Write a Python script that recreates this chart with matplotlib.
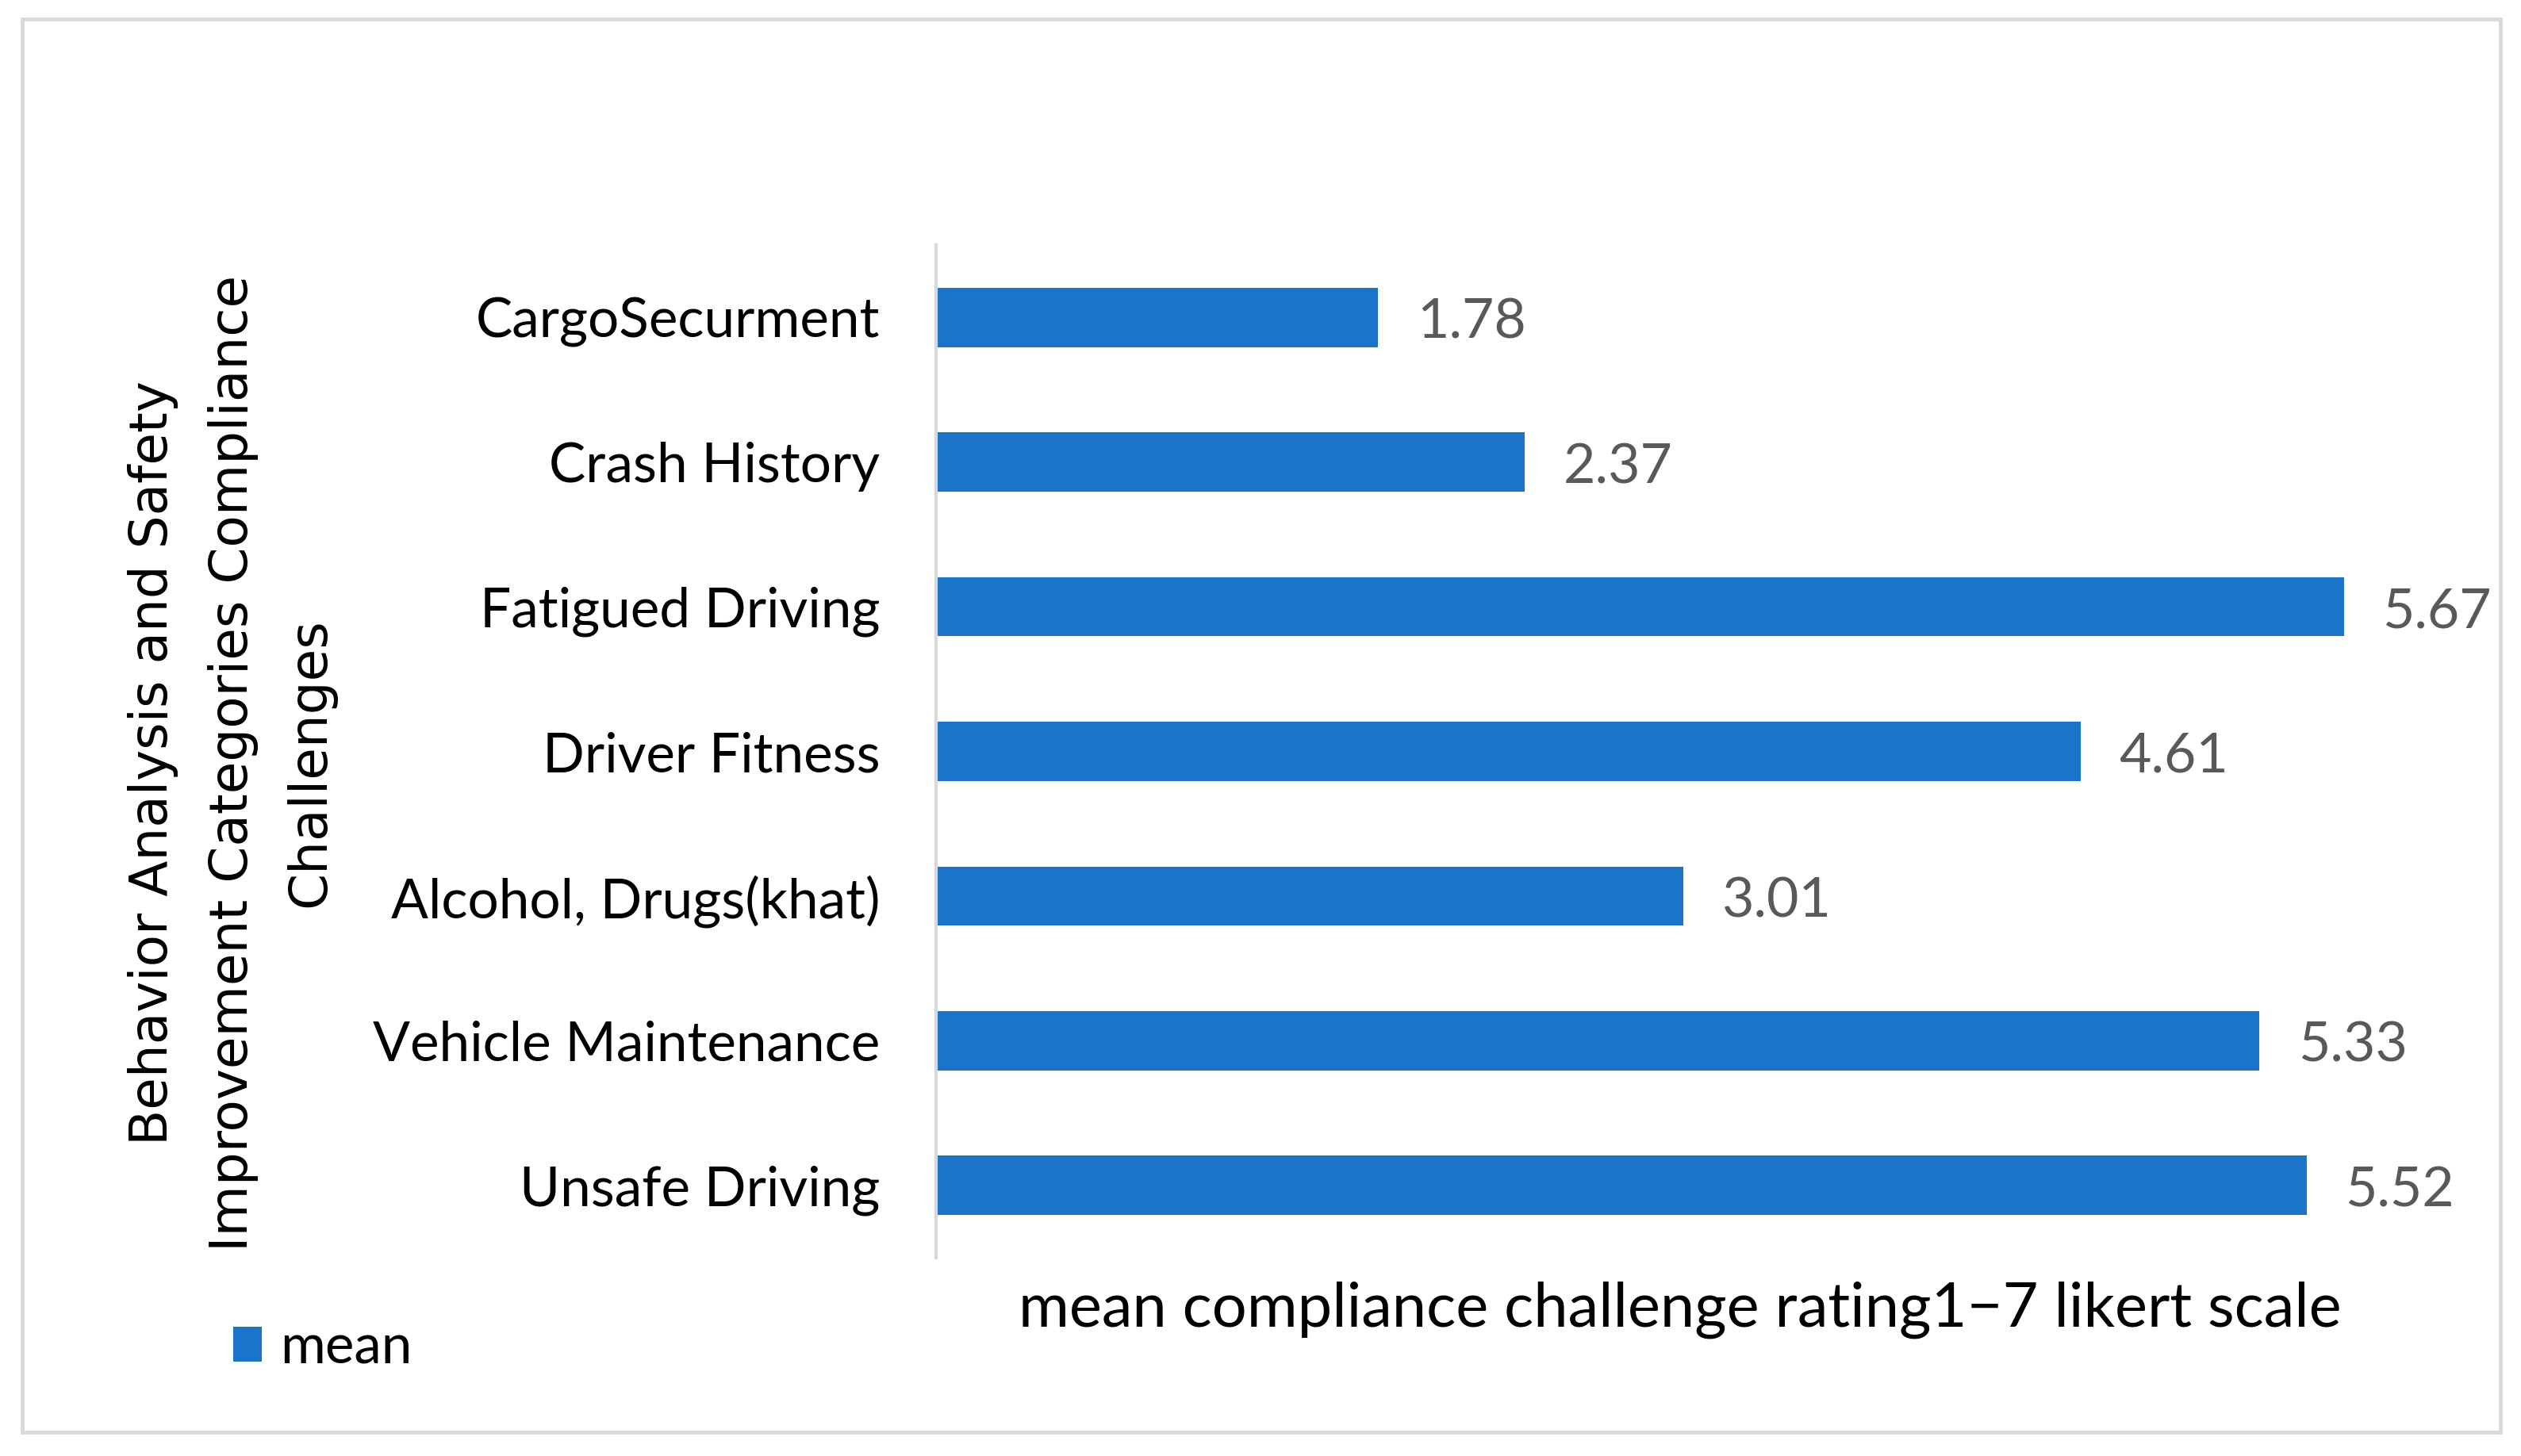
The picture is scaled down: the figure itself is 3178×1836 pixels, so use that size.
import matplotlib
matplotlib.use("Agg")
import matplotlib.pyplot as plt
from matplotlib.patches import Rectangle

categories = ["CargoSecurment", "Crash History", "Fatigued Driving", "Driver Fitness",
              "Alcohol, Drugs(khat)", "Vehicle Maintenance", "Unsafe Driving"]
means = [1.78, 2.37, 5.67, 4.61, 3.01, 5.33, 5.52]
series_name = "mean"
xlabel = "mean compliance challenge rating1\u22127 likert scale"
ylabel_lines = ["Behavior Analysis and Safety", "Improvement Categories Compliance", "Challenges"]

W, H = 3178, 1836
BAR = "#1a75c9"
FONT = "Lato"

fig = plt.figure(figsize=(W / 100, H / 100), dpi=100)
fig.patch.set_facecolor("white")
renderer = fig.canvas.get_renderer()


def fit(t, target_px):
    fs = t.get_fontsize()
    w = t.get_window_extent(renderer=renderer).width
    t.set_fontsize(fs * target_px / w)
    return t.get_fontsize()


# outer border
fig.patches.append(Rectangle((28 / W, 1 - 1806 / H), (3152 - 28) / W, (1806 - 24) / H,
                             transform=fig.transFigure, fill=False,
                             edgecolor="#d9d9d9", linewidth=3.5, zorder=0))

ax = fig.add_axes([1180 / W, 1 - 1586 / H, (3058 - 1180) / W, (1586 - 309) / H])
ypos = list(range(len(categories)))
bars = ax.barh(ypos, means, height=0.41, color=BAR, label=series_name)
ax.set_xlim(0, 6)
ax.set_ylim(len(categories) - 0.5, -0.5)

for s in ["top", "right", "bottom"]:
    ax.spines[s].set_visible(False)
ax.spines["left"].set_color("#d9d9d9")
ax.spines["left"].set_linewidth(3)
ax.set_xticks([])
ax.set_yticks(ypos)
ax.set_yticklabels(categories, fontfamily=FONT, color="black")
ax.tick_params(axis="y", length=0, pad=51)

# fit tick label size
probe = fig.text(0, 0, "Vehicle Maintenance", fontfamily=FONT, fontsize=40)
tick_fs = fit(probe, 640)
probe.remove()
for lab in ax.get_yticklabels():
    lab.set_fontsize(tick_fs)

# value labels
probe = fig.text(0, 0, "5.67", fontfamily=FONT, fontsize=40)
val_fs = fit(probe, 138)
probe.remove()
for yv, v in zip(ypos, means):
    ax.annotate(f"{v:.2f}", xy=(v, yv), xytext=(35, -5), textcoords="offset points",
                ha="left", va="center", fontsize=val_fs, fontfamily=FONT, color="#595959")

# x label
xt = fig.text(2118 / W, 1 - 1652 / H, xlabel, ha="center", va="center",
              fontfamily=FONT, fontsize=40, color="black")
fit(xt, 1668)

# y label (three centred rotated lines)
line_x = [193, 294, 391]
yfs = None
for lx, txt in zip(line_x, ylabel_lines):
    t = fig.text(lx / W, 1 - 962 / H, txt, rotation=90, ha="center", va="center",
                 fontfamily="DejaVu Sans", fontsize=40 if yfs is None else yfs, color="black")
    if yfs is None:
        fs = t.get_fontsize()
        h = t.get_window_extent(renderer=renderer).height
        yfs = fs * 963 / h
        t.set_fontsize(yfs)

# legend
probe = fig.text(0, 0, "mean", fontfamily=FONT, fontsize=40)
leg_fs = fit(probe, 166)
probe.remove()
em = leg_fs * 100 / 72
fig.legend(handles=[bars], labels=[series_name], loc="center left",
           bbox_to_anchor=(294 / W, 1 - 1700 / H), bbox_transform=fig.transFigure,
           frameon=False, prop={"family": FONT, "size": leg_fs},
           handlelength=36 / em, handleheight=41 / em, handletextpad=23 / em,
           borderpad=0, borderaxespad=0)

fig.savefig("out.png", dpi=100, facecolor="white")
